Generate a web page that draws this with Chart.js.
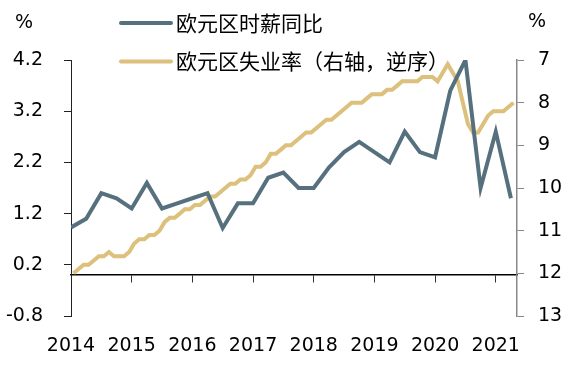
<!DOCTYPE html>
<html>
<head>
<meta charset="utf-8">
<script src="https://cdn.jsdelivr.net/npm/chart.js@4.4.0/dist/chart.umd.min.js"></script>
<style>
html,body{margin:0;padding:0;background:#fff;}
canvas{display:block;}
</style>
</head>
<body>
<canvas id="c" width="574" height="365"></canvas>
<script>
// ---------------- data ----------------
const years = ['2014','2015','2016','2017','2018','2019','2020','2021'];
const wageLabel = '欧元区时薪同比';
const unempLabel = '欧元区失业率（右轴，逆序）';
const unitLabel = '%';
// quarterly, Q1 2014 .. Q2 2021 (% y/y)
const wageGrowth = [0.93,1.1,1.6,1.5,1.3,1.8,1.3,1.4,1.5,1.6,0.92,1.4,1.4,1.9,2.0,1.7,
                    1.7,2.1,2.4,2.6,2.4,2.2,2.8,2.4,2.3,3.6,4.2,1.7,2.8,1.5];
// monthly, Jan 2014 .. Apr 2021 (%)
const unemployment = [12.0,11.9,11.8,11.8,11.7,11.6,11.6,11.5,11.6,11.6,11.6,11.5,
                      11.3,11.2,11.2,11.1,11.1,11.0,10.8,10.7,10.7,10.6,10.5,10.5,
                      10.4,10.4,10.3,10.2,10.2,10.1,10.0,9.9,9.9,9.8,9.8,9.7,
                      9.5,9.5,9.4,9.2,9.2,9.1,9.0,9.0,8.9,8.8,8.7,8.7,
                      8.6,8.5,8.4,8.4,8.3,8.2,8.1,8.0,8.0,8.0,7.9,7.8,
                      7.8,7.8,7.7,7.7,7.6,7.5,7.5,7.5,7.5,7.4,7.4,7.4,
                      7.5,7.3,7.1,7.3,7.5,8.0,8.5,8.7,8.7,8.5,8.3,8.2,
                      8.2,8.2,8.1,8.0];
const leftTicks = [-0.8,0.2,1.2,2.2,3.2,4.2];
const rightTicks = [7,8,9,10,11,12,13];

// ---------------- chart ----------------
const yearTicks = years.map((_, i) => i * 12);
const wagePoints = wageGrowth.map((v, i) => ({x: i * 3, y: v}));
const unempPoints = unemployment.map((v, i) => ({x: i + 0.5, y: v}));

Chart.defaults.font.family = '"DejaVu Sans", sans-serif';
Chart.defaults.font.size = 19;
Chart.defaults.color = '#000';

const overlay = {
  id: 'overlay',
  afterDraw(chart) {
    const ctx = chart.ctx;
    ctx.save();
    ctx.fillStyle = '#000';
    ctx.textBaseline = 'middle';
    ctx.textAlign = 'center';
    ctx.font = '19px "DejaVu Sans"';
    ctx.fillText(unitLabel, 24, 23);
    ctx.fillText(unitLabel, 537, 22);
    const rows = [23, 61.5];
    chart.data.datasets.forEach((ds, i) => {
      ctx.strokeStyle = ds.borderColor;
      ctx.lineWidth = 4;
      ctx.lineCap = 'round';
      ctx.beginPath();
      ctx.moveTo(121, rows[i]);
      ctx.lineTo(171, rows[i]);
      ctx.stroke();
      ctx.font = '21px "Noto Sans CJK SC"';
      ctx.textAlign = 'left';
      ctx.fillStyle = '#000';
      ctx.fillText(ds.label, 176, rows[i]);
    });
    ctx.restore();
  }
};

new Chart(document.getElementById('c'), {
  type: 'line',
  data: {
    datasets: [
      {label: wageLabel, data: wagePoints, xAxisID: 'x', yAxisID: 'y',
       borderColor: '#56707D', backgroundColor: '#56707D', borderWidth: 4,
       pointRadius: 0, fill: false, tension: 0},
      {label: unempLabel, data: unempPoints, xAxisID: 'x', yAxisID: 'y2',
       borderColor: '#DCC07C', backgroundColor: '#DCC07C', borderWidth: 4,
       pointRadius: 0, fill: false, tension: 0}
    ]
  },
  options: {
    responsive: false,
    animation: false,
    layout: {padding: {top: 60, left: 0, right: 0, bottom: 0}},
    plugins: {legend: {display: false}, tooltip: {enabled: false}},
    scales: {
      x: {
        type: 'linear', position: {y: 0}, min: 0, max: 88.2,
        afterBuildTicks: s => { s.ticks = yearTicks.map(v => ({value: v})); },
        ticks: {display: false},
        grid: {drawOnChartArea: false, tickLength: 7, color: '#333'},
        border: {display: true, color: '#000', width: 1.5}
      },
      x2: {
        type: 'linear', position: 'bottom', min: 0, max: 88.2,
        afterBuildTicks: s => { s.ticks = yearTicks.map(v => ({value: v})); },
        afterFit: s => { s.height = 49; },
        ticks: {padding: 19, autoSkip: false, maxRotation: 0,
                callback: v => years[Math.round(v / 12)]},
        grid: {display: false, drawTicks: false, tickLength: 0},
        border: {display: false}
      },
      y: {
        position: 'left', min: -0.8, max: 4.2,
        afterBuildTicks: s => { s.ticks = leftTicks.map(v => ({value: v})); },
        afterFit: s => { s.width = 71; },
        ticks: {padding: 21, callback: v => Number(v).toFixed(1)},
        grid: {drawOnChartArea: false, tickLength: 7, color: '#222'},
        border: {display: true, color: '#222', width: 1}
      },
      y2: {
        position: 'right', reverse: true, min: 7, max: 13,
        afterBuildTicks: s => { s.ticks = rightTicks.map(v => ({value: v})); },
        afterFit: s => { s.width = 57; },
        ticks: {padding: 14, callback: v => String(v)},
        grid: {drawOnChartArea: false, tickLength: 7, color: '#888'},
        border: {display: true, color: '#888', width: 1.5}
      }
    }
  },
  plugins: [overlay]
});
</script>
</body>
</html>
